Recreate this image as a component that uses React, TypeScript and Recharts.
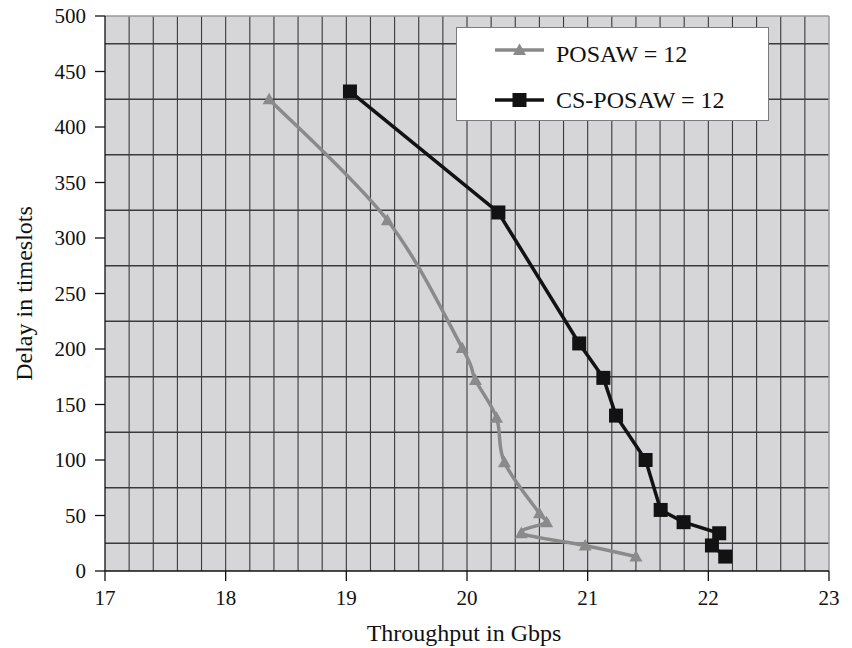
import React from 'react';
import {
  LineChart,
  Line,
  XAxis,
  YAxis,
  CartesianGrid,
  Legend,
  ReferenceLine,
  Label,
} from 'recharts';

// POSAW = 12 (grey, triangles, smoothed)
const posawThroughput = [18.36, 19.34, 19.96, 20.07, 20.245, 20.31, 20.6, 20.66, 20.45, 20.98, 21.4];
const posawDelay = [425, 316, 201, 172, 138, 98, 52, 44, 34, 23, 13];

// CS-POSAW = 12 (black, squares, straight segments)
const csThroughput = [19.03, 20.26, 20.93, 21.13, 21.235, 21.48, 21.605, 21.795, 22.09, 22.03, 22.14];
const csDelay = [432, 323, 205, 174, 140, 100, 55, 44, 34, 23, 13];

const xTicks = [17, 18, 19, 20, 21, 22, 23];
const yTicks = [0, 50, 100, 150, 200, 250, 300, 350, 400, 450, 500];

// grid lines
const xGridValues = [
  17.2, 17.4, 17.6, 17.8, 18, 18.2, 18.4, 18.6, 18.8, 19, 19.2, 19.4, 19.6, 19.8, 20,
  20.2, 20.4, 20.6, 20.8, 21, 21.2, 21.4, 21.6, 21.8, 22, 22.2, 22.4, 22.6, 22.8,
];
const yGridValues = [25, 75, 125, 175, 225, 275, 325, 375, 425, 475];

const seriesNames = ['POSAW = 12', 'CS-POSAW = 12'];

const posawData = posawThroughput.map((x, i) => ({ x, y: posawDelay[i] }));
const csData = csThroughput.map((x, i) => ({ x, y: csDelay[i] }));

const FONT = "'Liberation Serif', 'Times New Roman', Times, serif";
const GREY = '#8a8a8a';
const BLACK = '#121212';
const GRID = '#3a3a3a';

// Catmull-Rom style smoothing (d3 curve factory interface)
function smoothCurve(context: any) {
  let pts: number[][] = [];
  return {
    areaStart() {},
    areaEnd() {},
    lineStart() {
      pts = [];
    },
    lineEnd() {
      const n = pts.length;
      if (!n) return;
      context.moveTo(pts[0][0], pts[0][1]);
      for (let i = 0; i < n - 1; i++) {
        const p0 = pts[i - 1] || pts[i];
        const p1 = pts[i];
        const p2 = pts[i + 1];
        const p3 = pts[i + 2] || p2;
        context.bezierCurveTo(
          p1[0] + (p2[0] - p0[0]) / 6,
          p1[1] + (p2[1] - p0[1]) / 6,
          p2[0] - (p3[0] - p1[0]) / 6,
          p2[1] - (p3[1] - p1[1]) / 6,
          p2[0],
          p2[1]
        );
      }
    },
    point(x: number, y: number) {
      pts.push([+x, +y]);
    },
  };
}

const Triangle = ({ cx, cy, fill }: { cx: number; cy: number; fill: string }) => (
  <path d={`M${cx},${cy - 6.5} L${cx + 6.5},${cy + 5} L${cx - 6.5},${cy + 5} Z`} fill={fill} />
);

const Square = ({ cx, cy, fill }: { cx: number; cy: number; fill: string }) => (
  <rect x={cx - 7} y={cy - 7} width={14} height={14} fill={fill} />
);

const renderTriangleDot = (props: any) => {
  const { cx, cy, index } = props;
  if (cx == null || cy == null) return <g key={`t-${index}`} />;
  return <Triangle key={`t-${index}`} cx={cx} cy={cy} fill={GREY} />;
};

const renderSquareDot = (props: any) => {
  const { cx, cy, index } = props;
  if (cx == null || cy == null) return <g key={`s-${index}`} />;
  return <Square key={`s-${index}`} cx={cx} cy={cy} fill={BLACK} />;
};

const LegendBox = () => (
  <div
    style={{
      width: 313,
      height: 94,
      background: '#ffffff',
      border: '1.5px solid #7a7a7a',
      boxSizing: 'border-box',
    }}
  >
    <svg width={311} height={91} style={{ display: 'block' }}>
      <line x1={38} y1={22} x2={87} y2={22} stroke={GREY} strokeWidth={3.5} />
      <Triangle cx={62.5} cy={22} fill={GREY} />
      <text x={99} y={34} fontFamily={FONT} fontSize={24} fill="#111">
        {seriesNames[0]}
      </text>
      <line x1={38} y1={72} x2={87} y2={72} stroke={BLACK} strokeWidth={3.5} />
      <Square cx={62.5} cy={72} fill={BLACK} />
      <text x={99} y={80} fontFamily={FONT} fontSize={24} fill="#111">
        {seriesNames[1]}
      </text>
    </svg>
  </div>
);

const YTitle = (props: any) => {
  const vb = props.viewBox || { x: 0, y: 0, width: 0, height: 0 };
  const x = vb.x + 32;
  const y = vb.y + vb.height / 2;
  return (
    <text
      x={x}
      y={y}
      transform={`rotate(-90, ${x}, ${y})`}
      textAnchor="middle"
      fontFamily={FONT}
      fontSize={24}
      fill="#111"
    >
      Delay in timeslots
    </text>
  );
};

const XTitle = (props: any) => {
  const vb = props.viewBox || { x: 0, y: 0, width: 0, height: 0 };
  const x = vb.x + vb.width / 2 - 3;
  const y = vb.y + 70;
  return (
    <text x={x} y={y} textAnchor="middle" fontFamily={FONT} fontSize={24} fill="#111">
      Throughput in Gbps
    </text>
  );
};

const tickStyle = { fill: '#111', fontSize: 21, fontFamily: FONT };

export default function App() {
  return (
    <div style={{ position: 'absolute', left: 0, top: 0, width: 852, height: 648, background: '#fff' }}>
      <LineChart width={852} height={648} margin={{ top: 16, right: 23, left: 0, bottom: 0 }}>
        <CartesianGrid fill="#d6d6d8" fillOpacity={1} horizontal={false} vertical={false} />
        {xGridValues.map((v) => (
          <ReferenceLine key={`gx-${v}`} x={v} stroke={GRID} strokeWidth={1.1} />
        ))}
        {yGridValues.map((v) => (
          <ReferenceLine key={`gy-${v}`} y={v} stroke={GRID} strokeWidth={1.3} />
        ))}
        <ReferenceLine y={500} stroke="#999" strokeWidth={1.5} />
        <ReferenceLine x={23} stroke="#999" strokeWidth={1.5} />
        <XAxis
          type="number"
          dataKey="x"
          domain={[17, 23]}
          ticks={xTicks}
          allowDataOverflow
          height={77}
          tick={tickStyle}
          tickSize={10}
          tickMargin={9}
          axisLine={{ stroke: '#111', strokeWidth: 1.3 }}
          tickLine={{ stroke: '#111', strokeWidth: 1.3 }}
        >
          <Label content={XTitle} />
        </XAxis>
        <YAxis
          type="number"
          dataKey="y"
          domain={[0, 500]}
          ticks={yTicks}
          allowDataOverflow
          width={105}
          tick={tickStyle}
          tickSize={10}
          tickMargin={9}
          axisLine={{ stroke: '#111', strokeWidth: 1.3 }}
          tickLine={{ stroke: '#111', strokeWidth: 1.3 }}
        >
          <Label content={YTitle} />
        </YAxis>
        <Legend
          layout="vertical"
          align="center"
          verticalAlign="middle"
          content={() => <LegendBox />}
          wrapperStyle={{ position: 'absolute', left: 456, top: 27, width: 313, height: 94 }}
        />
        <Line
          name={seriesNames[0]}
          data={posawData}
          dataKey="y"
          type={smoothCurve as any}
          stroke={GREY}
          strokeWidth={3.5}
          dot={renderTriangleDot}
          activeDot={false}
          isAnimationActive={false}
        />
        <Line
          name={seriesNames[1]}
          data={csData}
          dataKey="y"
          type="linear"
          stroke={BLACK}
          strokeWidth={3.5}
          dot={renderSquareDot}
          activeDot={false}
          isAnimationActive={false}
        />
      </LineChart>
    </div>
  );
}
